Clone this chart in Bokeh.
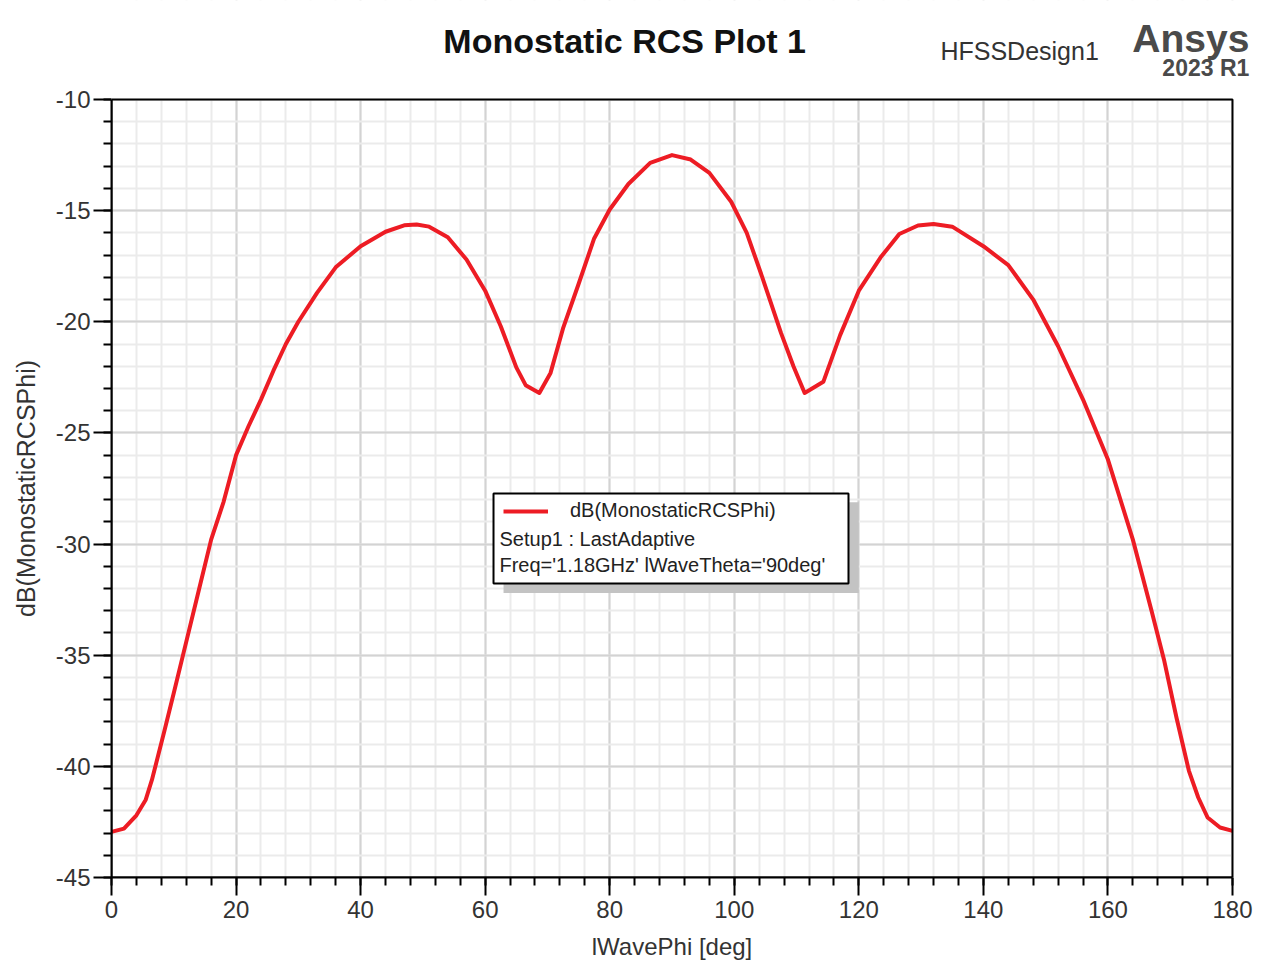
import math
from bokeh.plotting import figure
from bokeh.models import (Label, BoxAnnotation, Legend, LegendItem, Range1d,
                          SingleIntervalTicker)
from bokeh.embed import file_html
from bokeh.resources import INLINE

# ---------------- data ----------------
phi_deg = [0, 2, 4, 5.5, 6.5, 7.5, 8.5, 10, 12, 14, 16, 18, 20, 22, 24, 26, 28, 30,
           33, 36, 40, 44, 47, 49, 51, 54, 57, 60, 62.5, 65, 66.5, 68.7, 70.5, 72.5,
           75, 77.5, 80, 83, 86.5, 90, 93, 96, 99.5, 102, 104.5, 107.5, 109.5, 111.3,
           114.3, 117, 120, 123.5, 126.5, 129.5, 132, 135, 140, 144, 148, 152, 156,
           160, 164, 167, 169, 171, 173, 174.5, 176, 178, 180]
rcs_db = [-42.95, -42.8, -42.2, -41.5, -40.6, -39.5, -38.4, -36.7, -34.4, -32.1,
          -29.8, -28.1, -26.0, -24.7, -23.5, -22.2, -21.0, -20.0, -18.7, -17.55,
          -16.6, -15.95, -15.66, -15.62, -15.72, -16.2, -17.2, -18.6, -20.2, -22.05,
          -22.85, -23.2, -22.3, -20.3, -18.3, -16.25, -14.95, -13.8, -12.85, -12.5,
          -12.7, -13.3, -14.6, -16.0, -18.0, -20.5, -22.0, -23.2, -22.7, -20.6,
          -18.6, -17.1, -16.05, -15.67, -15.6, -15.72, -16.6, -17.45, -19.0, -21.1,
          -23.5, -26.2, -29.8, -33.0, -35.2, -37.8, -40.2, -41.4, -42.3, -42.75, -42.9]

x_ticks = [0, 20, 40, 60, 80, 100, 120, 140, 160, 180]
x_tick_labels = ["0", "20", "40", "60", "80", "100", "120", "140", "160", "180"]
y_ticks = [-45, -40, -35, -30, -25, -20, -15, -10]
y_tick_labels = ["-45", "-40", "-35", "-30", "-25", "-20", "-15", "-10"]

title_text = "Monostatic RCS Plot 1"
design_text = "HFSSDesign1"
logo_text = "Ansys"
version_text = "2023 R1"
x_label = "lWavePhi [deg]"
y_label = "dB(MonostaticRCSPhi)"
legend_lines = ["dB(MonostaticRCSPhi)", "Setup1 : LastAdaptive",
                "Freq='1.18GHz' lWaveTheta='90deg'"]

FONT = "Liberation Sans"
RED = "#ed1c24"

# ---------------- geometry of the chart area ----------------
W, H = 1264, 962
LEFT, RIGHT_EDGE, TOP, BOTTOM_EDGE = 111, 1232, 99, 877
X0, X1 = x_ticks[0], x_ticks[-1]
Y0, Y1 = y_ticks[0], y_ticks[-1]
px_per_x = (RIGHT_EDGE - LEFT) / (X1 - X0)
px_per_y = (BOTTOM_EDGE - TOP) / (Y1 - Y0)
# frame extends to the right/top canvas edge so header texts are not clipped
x_end = X1 + (W - RIGHT_EDGE) / px_per_x
y_end = Y1 + TOP / px_per_y

p = figure(width=W, height=H, output_backend="svg", toolbar_location=None,
           x_range=Range1d(X0, x_end), y_range=Range1d(Y0, y_end),
           min_border_left=LEFT, min_border_right=0, min_border_top=0,
           min_border_bottom=H - BOTTOM_EDGE)
p.background_fill_color = "white"
p.border_fill_color = "white"
p.outline_line_color = None

p.xaxis.ticker = SingleIntervalTicker(interval=20, num_minor_ticks=5)
p.yaxis.ticker = SingleIntervalTicker(interval=5, num_minor_ticks=5)
p.xaxis.bounds = (X0, X1)
p.yaxis.bounds = (Y0, Y1)
p.xaxis.major_label_overrides = {float(t): s for t, s in zip(x_ticks, x_tick_labels)}
p.yaxis.major_label_overrides = {float(t): s for t, s in zip(y_ticks, y_tick_labels)}

for ax in (p.xaxis[0], p.yaxis[0]):
    ax.axis_line_color = "black"
    ax.axis_line_width = 2
    ax.major_tick_line_color = "black"
    ax.major_tick_line_width = 2
    ax.major_tick_out = 18
    ax.major_tick_in = 0
    ax.minor_tick_line_color = "black"
    ax.minor_tick_line_width = 2
    ax.minor_tick_out = 8
    ax.minor_tick_in = 0
    ax.major_label_text_font = FONT
    ax.major_label_text_font_size = "24px"
    ax.major_label_text_color = "#333333"

p.xaxis.major_label_standoff = 5
p.yaxis.major_label_standoff = 3

# axis titles as labels in the side panels, centred on the plotting box
p.add_layout(Label(x=(X0 + X1) / 2, y=Y0 - (946 - BOTTOM_EDGE) / px_per_y,
                   text=x_label, text_font=FONT, text_font_size="24px",
                   text_color="#333333", text_align="center",
                   text_baseline="middle"), "below")
p.add_layout(Label(x=X0 - (LEFT - 25) / px_per_x, y=(Y0 + Y1) / 2,
                   text=y_label, text_font=FONT, text_font_size="25px",
                   text_color="#333333", text_align="center",
                   text_baseline="middle", angle=math.pi / 2), "left")

for g in (p.xgrid[0], p.ygrid[0]):
    g.grid_line_color = "#d3d3d3"
    g.grid_line_width = 2
    g.minor_grid_line_color = "#ebebeb"
    g.minor_grid_line_width = 2

# ---------------- curve ----------------
r = p.line(phi_deg, rcs_db, line_color=RED, line_width=4, line_join="round")

# white cover outside the plotting box, then the box outline
p.add_layout(BoxAnnotation(bottom=Y1, fill_color="white", fill_alpha=1.0,
                           line_color=None))
p.add_layout(BoxAnnotation(left=X1, fill_color="white", fill_alpha=1.0,
                           line_color=None))
p.add_layout(BoxAnnotation(left=X0, right=X1, bottom=Y0, top=Y1, fill_alpha=0,
                           line_color="black", line_alpha=1.0, line_width=2))

# ---------------- legend box ----------------
shadow = BoxAnnotation(left=62.95, right=120.0, top=-28.12, bottom=-32.2,
                       fill_color="#c3c3c3", fill_alpha=1.0, line_color=None)
box = BoxAnnotation(left=61.34, right=118.34, top=-27.72, bottom=-31.77,
                    fill_color="white", fill_alpha=1.0, line_color="black",
                    line_alpha=1.0, line_width=2)
p.add_layout(shadow)
p.add_layout(box)

legend = Legend(items=[LegendItem(label=legend_lines[0], renderers=[r])],
                location=(392, 355), padding=0, margin=0, spacing=0,
                glyph_width=45, glyph_height=22, label_height=22,
                label_standoff=22, border_line_alpha=0, background_fill_alpha=0,
                label_text_font=FONT, label_text_font_size="20px",
                label_text_color="#222222")
p.add_layout(legend)

for txt, yv in ((legend_lines[1], -29.75), (legend_lines[2], -30.92)):
    p.add_layout(Label(x=62.3, y=yv, text=txt, text_font=FONT,
                       text_font_size="20px", text_color="#222222",
                       text_baseline="middle", text_align="left"))

# ---------------- header texts ----------------
p.add_layout(Label(x=82.4, y=-7.39, text=title_text, text_font=FONT,
                   text_font_size="34px", text_font_style="bold",
                   text_color="#111111", text_align="center",
                   text_baseline="alphabetic"))
p.add_layout(Label(x=133.1, y=-7.8, text=design_text, text_font=FONT,
                   text_font_size="25px", text_color="#333333",
                   text_align="left", text_baseline="alphabetic"))
p.add_layout(Label(x=182.7, y=-7.26, text=logo_text, text_font=FONT,
                   text_font_size="39px", text_font_style="bold",
                   text_color="#4a4a4a", text_align="right",
                   text_baseline="alphabetic"))
p.add_layout(Label(x=182.7, y=-8.6, text=version_text, text_font=FONT,
                   text_font_size="23px", text_font_style="bold",
                   text_color="#4a4a4a", text_align="right",
                   text_baseline="alphabetic"))

open("out.html", "w").write(file_html(p, INLINE))
